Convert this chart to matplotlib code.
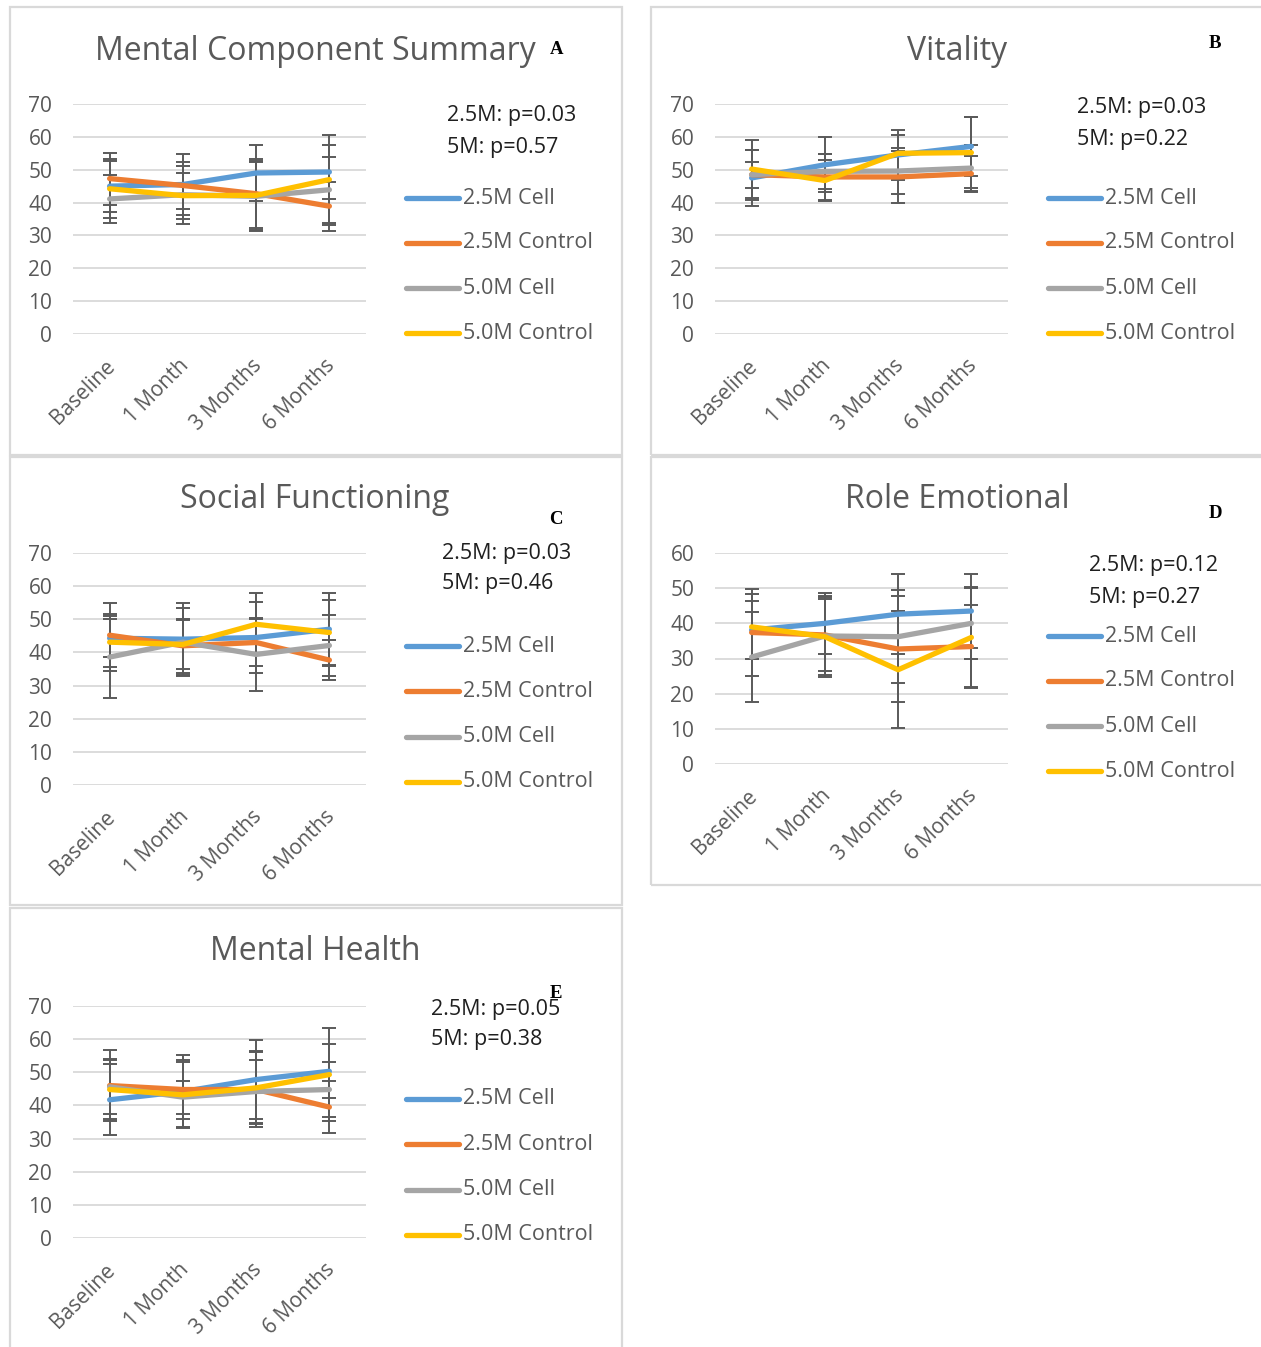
import matplotlib
matplotlib.use("Agg")
import matplotlib.pyplot as plt
from matplotlib.patches import Rectangle
from matplotlib.lines import Line2D
from matplotlib.transforms import ScaledTranslation

plt.rcParams['font.family'] = ['Open Sans', 'DejaVu Sans']

# ---------------------------------------------------------------- data
timepoints = ["Baseline", "1 Month", "3 Months", "6 Months"]
series_names = ["2.5M Cell", "2.5M Control", "5.0M Cell", "5.0M Control"]
series_colors = ["#5B9BD5", "#ED7D31", "#A5A5A5", "#FFC000"]

# Mental Component Summary
mcs_mean = [[45.0, 45.5, 49.0, 49.3],
            [47.3, 45.2, 42.7, 38.9],
            [41.1, 42.4, 41.9, 43.9],
            [44.2, 42.1, 42.2, 47.0]]
mcs_err = [[7.8, 9.3, 8.6, 8.3],
           [7.9, 7.3, 10.5, 7.5],
           [7.4, 8.8, 10.5, 10.0],
           [9.0, 7.0, 10.5, 13.7]]

# Vitality
vt_mean = [[47.5, 51.5, 54.5, 57.1],
           [48.5, 47.8, 47.8, 48.8],
           [48.5, 49.5, 49.6, 50.5],
           [50.2, 46.7, 55.0, 55.2]]
vt_err = [[8.6, 8.4, 7.6, 9.0],
          [7.6, 6.9, 8.0, 5.5],
          [4.0, 5.4, 7.0, 7.0],
          [8.9, 6.3, 5.6, 10.8]]

# Social Functioning
sf_mean = [[44.3, 44.0, 44.5, 47.0],
           [45.2, 42.0, 43.0, 37.7],
           [38.6, 43.1, 39.4, 42.1],
           [43.1, 42.4, 48.5, 46.0]]
sf_err = [[5.8, 10.8, 10.7, 11.0],
          [9.6, 8.2, 7.1, 5.9],
          [12.3, 10.2, 11.0, 9.2],
          [8.6, 7.5, 9.3, 9.8]]

# Role Emotional
re_mean = [[38.1, 40.0, 42.6, 43.5],
           [37.4, 36.7, 32.7, 33.4],
           [30.4, 36.4, 36.2, 40.0],
           [39.0, 36.2, 26.8, 36.0]]
re_err = [[8.2, 8.7, 11.3, 10.4],
          [12.3, 10.3, 15.2, 11.7],
          [12.9, 11.2, 13.2, 10.0],
          [9.2, 11.5, 16.6, 14.2]]

# Mental Health
mh_mean = [[41.7, 44.2, 47.8, 50.3],
           [46.0, 44.8, 44.8, 39.5],
           [45.6, 42.5, 44.2, 44.8],
           [44.8, 43.2, 45.3, 49.3]]
mh_err = [[10.7, 11.0, 11.9, 8.2],
          [10.7, 8.8, 11.3, 7.8],
          [8.3, 5.0, 9.6, 8.3],
          [8.9, 9.8, 11.0, 14.0]]

titles = ["Mental Component Summary", "Vitality", "Social Functioning",
          "Role Emotional", "Mental Health"]
panel_letters = ["A", "B", "C", "D", "E"]
p_values = [("0.03", "0.57"), ("0.03", "0.22"), ("0.03", "0.46"),
            ("0.12", "0.27"), ("0.05", "0.38")]
y_max = [70, 70, 70, 60, 70]

# ---------------------------------------------------------------- layout
W, H = 1261, 1347
fig = plt.figure(figsize=(W / 100, H / 100), dpi=100)
fig.patch.set_facecolor("white")

GRAY_TXT = "#595959"


def fx(x):
    return x / W


def fy(y):
    return 1 - y / H


def frame(x0, y0, x1, y1):
    fig.patches.append(Rectangle((fx(x0), fy(y1)), fx(x1 - x0), (y1 - y0) / H,
                                 transform=fig.transFigure, fill=False,
                                 edgecolor="#d9d9d9", lw=1.6))


# chart frames
frame(10, 7, 622, 455)
frame(651, 7, 1268, 455)
frame(10, 457, 622, 905)
frame(651, 457, 1268, 885)
frame(10, 908, 622, 1360)

# per-panel placement: (x shift, y of top gridline, y of zero line)
panels = [
    dict(dx=0, top=104, bot=334, title_y=51, letter=(557, 50),
         p_xy=(447, 116), leg_y=198),
    dict(dx=642, top=104, bot=334, title_y=51, letter=(1215, 43),
         p_xy=(1077, 108), leg_y=198),
    dict(dx=0, top=553, bot=785, title_y=499, letter=(556, 520),
         p_xy=(442, 553), leg_y=646),
    dict(dx=642, top=553, bot=764, title_y=499, letter=(1215, 514),
         p_xy=(1089, 566), leg_y=636),
    dict(dx=0, top=1006, bot=1238, title_y=952, letter=(556, 993),
         p_xy=(431, 1009), leg_y=1099),
]
leg_gap = [45, 45, 45.3, 45, 45.3]

data = [(mcs_mean, mcs_err), (vt_mean, vt_err), (sf_mean, sf_err),
        (re_mean, re_err), (mh_mean, mh_err)]

label_shift = ScaledTranslation(-0.05, -0.02, fig.dpi_scale_trans)

for i, (pan, (means, errs)) in enumerate(zip(panels, data)):
    dx = pan["dx"]
    x0, x1 = 73 + dx, 366 + dx
    ax = fig.add_axes([fx(x0), fy(pan["bot"]), fx(x1 - x0),
                       (pan["bot"] - pan["top"]) / H])
    ax.set_xlim(-0.5, 3.5)
    ax.set_ylim(0, y_max[i])
    ax.set_yticks(range(0, y_max[i] + 1, 10))
    for s in ax.spines.values():
        s.set_visible(False)
    ax.grid(axis="y", color="#d9d9d9", lw=1.3)
    ax.set_axisbelow(True)
    ax.tick_params(axis="both", length=0, colors=GRAY_TXT, labelsize=15)
    ax.tick_params(axis="y", pad=15)
    ax.set_xticks(range(len(timepoints)))
    ax.set_xticklabels(timepoints, rotation=45, ha="right", va="top",
                       rotation_mode="anchor", color=GRAY_TXT, fontsize=15)
    ax.tick_params(axis="x", pad=14)
    for lbl in ax.get_xticklabels():
        lbl.set_transform(lbl.get_transform() + label_shift)

    xs = list(range(len(timepoints)))
    for m, e, c in zip(means, errs, series_colors):
        ax.errorbar(xs, m, yerr=e, color=c, lw=3.8, ecolor="#5a5a5a",
                    elinewidth=1.4, capsize=5, capthick=1.4,
                    solid_joinstyle="round", solid_capstyle="round",
                    clip_on=False)

    # title and panel letter
    cx = 315 + dx
    fig.text(fx(cx), fy(pan["title_y"]), titles[i], ha="center", va="center",
             fontsize=23, color=GRAY_TXT)
    lx, ly = pan["letter"]
    fig.text(fx(lx), fy(ly), panel_letters[i], ha="center", va="center",
             fontsize=13.5, fontweight="bold", family="Liberation Serif",
             color="black")

    # p-values
    px, py = pan["p_xy"]
    p25, p5 = p_values[i]
    fig.text(fx(px), fy(py), f"2.5M: p={p25}", ha="left", va="center",
             fontsize=15.5, color="#1f1f1f")
    fig.text(fx(px), fy(py + 31), f"5M: p={p5}", ha="left", va="center",
             fontsize=15.5, color="#1f1f1f")

    # legend
    for k, (name, c) in enumerate(zip(series_names, series_colors)):
        yy = pan["leg_y"] + k * leg_gap[i]
        fig.lines.append(Line2D([fx(406 + dx), fx(459 + dx)], [fy(yy), fy(yy)],
                                transform=fig.transFigure, color=c, lw=3.8,
                                solid_capstyle="round"))
        fig.text(fx(463 + dx), fy(yy), name, ha="left", va="center",
                 fontsize=15.5, color=GRAY_TXT)

fig.savefig("out.png", dpi=100, facecolor="white")
